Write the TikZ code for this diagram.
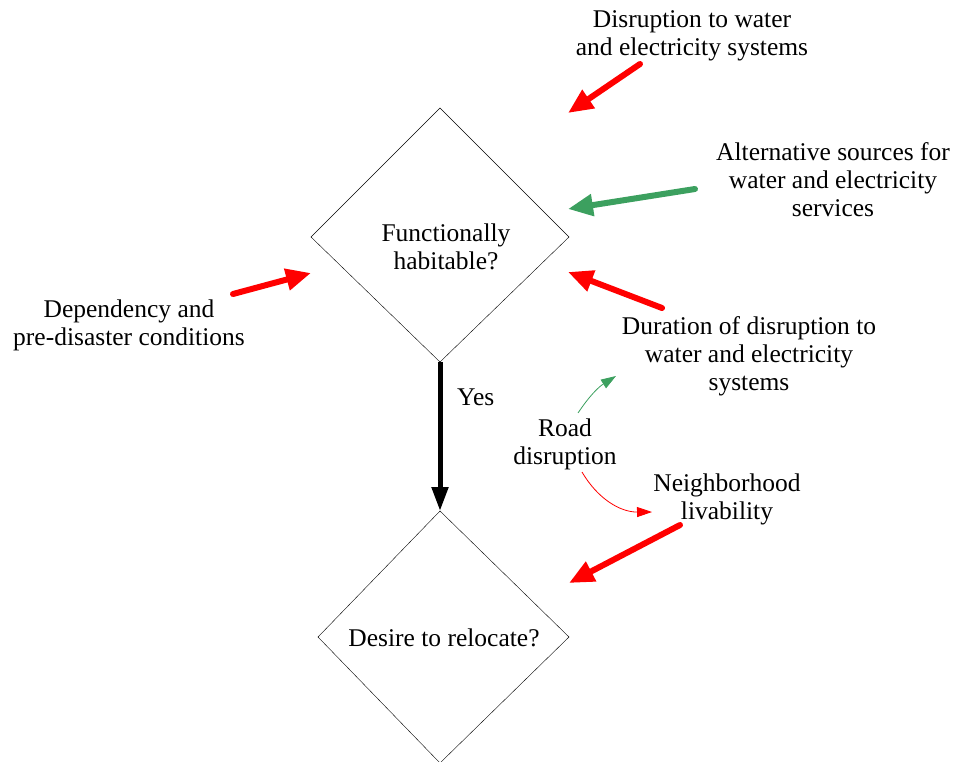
\documentclass[tikz,border=0pt]{standalone}
\usepackage{fontspec}
\setmainfont{Liberation Serif}
\usetikzlibrary{arrows.meta}
\begin{document}
\begin{tikzpicture}[x=1pt,y=-1pt,
  lbl/.style={align=center,font=\fontsize{25.5}{28}\selectfont,inner sep=0pt},
  bigarrow/.style={draw=red,line width=6pt,line cap=round,-{Triangle[length=25pt,width=21pt]}},
  thinarrow/.style={draw=red,line width=0.8pt,-{Triangle[length=15pt,width=10pt]}},
  yesarrow/.style={draw=black,line width=5pt,-{Triangle[length=24pt,width=16pt]}}]
\useasboundingbox (0,0) rectangle (955,762);
\definecolor{lgreen}{RGB}{60,160,95}
% decision diamonds
\draw[thin] (311,237) coordinate (d1w) -- (440,108) coordinate (d1n) -- (569,237) coordinate (d1e) -- (440,362) coordinate (d1s) -- cycle;
\draw[thin] (318,637) coordinate (d2w) -- (440,511) coordinate (d2n) -- (569,637) coordinate (d2e) -- (440,763) coordinate (d2s) -- cycle;
\node[lbl] (q1) at (446,247) {Functionally\\habitable?};
\node[lbl] (q2) at (444,638) {Desire to relocate?};
% influencing factors
\node[lbl] (disr) at (692,36) {Disruption to water\\and electricity systems};
\node[lbl] (alt) at (833,180) {Alternative sources for\\water and electricity\\services};
\node[lbl] (dep) at (129,325) {Dependency and\\pre-disaster conditions};
\node[lbl] (dur) at (749,356) {Duration of disruption to\\water and electricity\\systems};
\node[lbl] (road) at (565,444) {Road\\disruption};
\node[lbl] (neigh) at (727,499) {Neighborhood\\livability};
\node[lbl,anchor=west] (yes) at (457,397) {Yes};
% arrow end points
\coordinate (disrT) at (640,64);  \coordinate (disrH) at (568,113);
\coordinate (altT) at (695,189);  \coordinate (altH) at (568,209);
\coordinate (durT) at (662,308);  \coordinate (durH) at (568,272);
\coordinate (depT) at (233,294);  \coordinate (depH) at (311,273);
\coordinate (neiT) at (680,525);  \coordinate (neiH) at (569,583);
\coordinate (roadA) at (578,413); \coordinate (durIn) at (616,376);
\coordinate (roadB) at (582,472); \coordinate (neiIn) at (652,512);
\draw[bigarrow] (disrT) -- (disrH);
\draw[bigarrow,draw=lgreen] (altT) -- (altH);
\draw[bigarrow] (durT) -- (durH);
\draw[bigarrow] (depT) -- (depH);
\draw[bigarrow] (neiT) -- (neiH);
\draw[thinarrow,draw=lgreen] (roadA) to[bend left=12] (durIn);
\draw[thinarrow] (roadB) to[bend right=30] (neiIn);
\draw[yesarrow] (d1s) -- (d2n);
\end{tikzpicture}
\end{document}
